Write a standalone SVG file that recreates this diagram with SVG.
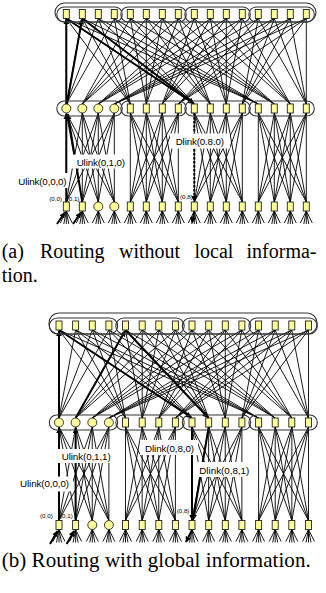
<svg xmlns="http://www.w3.org/2000/svg" width="326" height="593" viewBox="0 0 326 593">
<style>
.ln{fill:none;stroke:#000;stroke-width:0.9}
.th{fill:none;stroke:#000;stroke-width:2}
.ds{fill:none;stroke:#000;stroke-width:2;stroke-dasharray:2.5 1.5}
.pl{fill:none;stroke:#333;stroke-width:1.1}
.nd{fill:#ffff99;stroke:#222;stroke-width:0.9}
.lb{font-family:"Liberation Sans",Arial,sans-serif;font-size:9.8px;fill:#000}
.sm{font-family:"Liberation Sans",Arial,sans-serif;font-size:6.2px;fill:#000}
.cap{font-family:"Liberation Serif","Times New Roman",serif;font-size:20px;fill:#000}
.bx{fill:#fff}
</style>
<defs>
<marker id="ah" viewBox="0 0 10 10" refX="9" refY="5" markerWidth="6" markerHeight="6" markerUnits="userSpaceOnUse" orient="auto"><path d="M0 0L10 5L0 10z" fill="#000"/></marker>
<path id="stub" class="ln" d="M0 0l-6 12M0 0l-2.5 13M0 0l0 13M0 0l2.5 13M0 0l6 12"/>
<path id="kA" d="M0 0l0 89M0 0l16 89M0 0l32 89M0 0l48 89M16 0l-16 89M16 0l0 89M16 0l16 89M16 0l32 89M32 0l-32 89M32 0l-16 89M32 0l0 89M32 0l16 89M48 0l-48 89M48 0l-32 89M48 0l-16 89M48 0l0 89"/>
<path id="kB" d="M0 0l0 93.5M0 0l16.63 93.5M0 0l33.26 93.5M0 0l49.89 93.5M16.63 0l-16.63 93.5M16.63 0l0 93.5M16.63 0l16.63 93.5M16.63 0l33.26 93.5M33.26 0l-33.26 93.5M33.26 0l-16.63 93.5M33.26 0l0 93.5M33.26 0l16.63 93.5M49.89 0l-49.89 93.5M49.89 0l-33.26 93.5M49.89 0l-16.63 93.5M49.89 0l0 93.5"/>
</defs>

<!-- ================= Panel (a) ================= -->
<g id="a-connectors">
<path class="ln" d="M66.3 18.5L66.3 104M66.3 18.5L130.3 104M66.3 18.5L194.3 104M66.3 18.5L258.3 104
M82.3 18.5L66.3 104M82.3 18.5L130.3 104M82.3 18.5L194.3 104M82.3 18.5L258.3 104
M98.3 18.5L66.3 104M98.3 18.5L130.3 104M98.3 18.5L194.3 104M98.3 18.5L258.3 104
M114.3 18.5L66.3 104M114.3 18.5L130.3 104M114.3 18.5L194.3 104M114.3 18.5L258.3 104
M130.3 18.5L82.3 104M130.3 18.5L146.3 104M130.3 18.5L210.3 104M130.3 18.5L274.3 104
M146.3 18.5L82.3 104M146.3 18.5L146.3 104M146.3 18.5L210.3 104M146.3 18.5L274.3 104
M162.3 18.5L82.3 104M162.3 18.5L146.3 104M162.3 18.5L210.3 104M162.3 18.5L274.3 104
M178.3 18.5L82.3 104M178.3 18.5L146.3 104M178.3 18.5L210.3 104M178.3 18.5L274.3 104
M194.3 18.5L98.3 104M194.3 18.5L162.3 104M194.3 18.5L226.3 104M194.3 18.5L290.3 104
M210.3 18.5L98.3 104M210.3 18.5L162.3 104M210.3 18.5L226.3 104M210.3 18.5L290.3 104
M226.3 18.5L98.3 104M226.3 18.5L162.3 104M226.3 18.5L226.3 104M226.3 18.5L290.3 104
M242.3 18.5L98.3 104M242.3 18.5L162.3 104M242.3 18.5L226.3 104M242.3 18.5L290.3 104
M258.3 18.5L114.3 104M258.3 18.5L178.3 104M258.3 18.5L242.3 104M258.3 18.5L306.3 104
M274.3 18.5L114.3 104M274.3 18.5L178.3 104M274.3 18.5L242.3 104M274.3 18.5L306.3 104
M290.3 18.5L114.3 104M290.3 18.5L178.3 104M290.3 18.5L242.3 104M290.3 18.5L306.3 104
M306.3 18.5L114.3 104M306.3 18.5L178.3 104M306.3 18.5L242.3 104M306.3 18.5L306.3 104"/>
<use href="#kA" class="ln" x="66.3" y="113"/>
<use href="#kA" class="ln" x="130.3" y="113"/>
<use href="#kA" class="ln" x="194.3" y="113"/>
<use href="#kA" class="ln" x="258.3" y="113"/>
<use href="#stub" x="66.3" y="211"/><use href="#stub" x="82.3" y="211"/><use href="#stub" x="98.3" y="211"/><use href="#stub" x="114.3" y="211"/>
<use href="#stub" x="130.3" y="211"/><use href="#stub" x="146.3" y="211"/><use href="#stub" x="162.3" y="211"/><use href="#stub" x="178.3" y="211"/>
<use href="#stub" x="194.3" y="211"/><use href="#stub" x="210.3" y="211"/><use href="#stub" x="226.3" y="211"/><use href="#stub" x="242.3" y="211"/>
<use href="#stub" x="258.3" y="211"/><use href="#stub" x="274.3" y="211"/><use href="#stub" x="290.3" y="211"/><use href="#stub" x="306.3" y="211"/>
<path class="th" d="M66.3 202L66.3 114" marker-end="url(#ah)"/>
<path class="th" d="M82.3 202L67.8 114" marker-end="url(#ah)"/>
<path class="th" d="M66.3 104L66.3 19" marker-end="url(#ah)"/>
<path class="th" d="M67 104L82 19" marker-end="url(#ah)"/>
<path class="th" d="M66.3 18.5L193.6 103.5" marker-end="url(#ah)"/>
<path class="th" d="M82.3 18.5L193.8 103.5" marker-end="url(#ah)"/>
<path class="ds" d="M194.3 113L194.3 201.5" marker-end="url(#ah)"/>
<path class="ds" d="M194.3 211.5L192 223" marker-end="url(#ah)"/>
<path class="th" d="M57 224L64.8 212.5" marker-end="url(#ah)"/>
<path class="th" d="M73 224L80.8 212.5" marker-end="url(#ah)"/>
</g>
<g id="a-labels">
<rect class="bx" x="71.5" y="154.5" width="57" height="14"/>
<text class="lb" x="76.7" y="166" textLength="48.3">Ulink(0,1,0)</text>
<rect class="bx" x="16" y="173" width="52" height="15"/>
<text class="lb" x="18.3" y="185" textLength="48.3">Ulink(0,0,0)</text>
<rect class="bx" x="170" y="133.5" width="60" height="15"/>
<text class="lb" x="175.7" y="145" textLength="48.3">Dlink(0.8.0)</text>
<text class="sm" x="49.3" y="201">(0,0)</text>
<text class="sm" x="66.7" y="201">(0,1)</text>
<text class="sm" x="180" y="199">(0,8)</text>
</g>
<g id="a-groups">
<rect class="pl" x="55" y="3" width="261" height="19" rx="9.5"/>
<rect class="pl" x="56.8" y="7" width="65.5" height="15" rx="7.5"/>
<rect class="pl" x="120.8" y="7" width="65.5" height="15" rx="7.5"/>
<rect class="pl" x="184.8" y="7" width="65.5" height="15" rx="7.5"/>
<rect class="pl" x="248.8" y="7" width="65.5" height="15" rx="7.5"/>
<rect class="pl" x="56.8" y="101" width="65.5" height="15" rx="7.5"/>
<rect class="pl" x="120.8" y="101" width="65.5" height="15" rx="7.5"/>
<rect class="pl" x="184.8" y="101" width="65.5" height="15" rx="7.5"/>
<rect class="pl" x="248.8" y="101" width="65.5" height="15" rx="7.5"/>
</g>
<g id="a-top">
<g id="a-t0"><rect class="nd" x="63.3" y="9.5" width="6" height="9"/></g>
<g id="a-t1"><rect class="nd" x="79.3" y="9.5" width="6" height="9"/></g>
<g id="a-t2"><rect class="nd" x="95.3" y="9.5" width="6" height="9"/></g>
<g id="a-t3"><rect class="nd" x="111.3" y="9.5" width="6" height="9"/></g>
<g id="a-t4"><rect class="nd" x="127.3" y="9.5" width="6" height="9"/></g>
<g id="a-t5"><rect class="nd" x="143.3" y="9.5" width="6" height="9"/></g>
<g id="a-t6"><rect class="nd" x="159.3" y="9.5" width="6" height="9"/></g>
<g id="a-t7"><rect class="nd" x="175.3" y="9.5" width="6" height="9"/></g>
<g id="a-t8"><rect class="nd" x="191.3" y="9.5" width="6" height="9"/></g>
<g id="a-t9"><rect class="nd" x="207.3" y="9.5" width="6" height="9"/></g>
<g id="a-t10"><rect class="nd" x="223.3" y="9.5" width="6" height="9"/></g>
<g id="a-t11"><rect class="nd" x="239.3" y="9.5" width="6" height="9"/></g>
<g id="a-t12"><rect class="nd" x="255.3" y="9.5" width="6" height="9"/></g>
<g id="a-t13"><rect class="nd" x="271.3" y="9.5" width="6" height="9"/></g>
<g id="a-t14"><rect class="nd" x="287.3" y="9.5" width="6" height="9"/></g>
<g id="a-t15"><rect class="nd" x="303.3" y="9.5" width="6" height="9"/></g>
</g>
<g id="a-mid">
<g id="a-m0"><circle class="nd" cx="66.3" cy="108.5" r="4.5"/></g>
<g id="a-m1"><circle class="nd" cx="82.3" cy="108.5" r="4.5"/></g>
<g id="a-m2"><circle class="nd" cx="98.3" cy="108.5" r="4.5"/></g>
<g id="a-m3"><circle class="nd" cx="114.3" cy="108.5" r="4.5"/></g>
<g id="a-m4"><rect class="nd" x="127.3" y="104" width="6" height="9"/></g>
<g id="a-m5"><rect class="nd" x="143.3" y="104" width="6" height="9"/></g>
<g id="a-m6"><rect class="nd" x="159.3" y="104" width="6" height="9"/></g>
<g id="a-m7"><rect class="nd" x="175.3" y="104" width="6" height="9"/></g>
<g id="a-m8"><rect class="nd" x="191.3" y="104" width="6" height="9"/></g>
<g id="a-m9"><rect class="nd" x="207.3" y="104" width="6" height="9"/></g>
<g id="a-m10"><rect class="nd" x="223.3" y="104" width="6" height="9"/></g>
<g id="a-m11"><rect class="nd" x="239.3" y="104" width="6" height="9"/></g>
<g id="a-m12"><rect class="nd" x="255.3" y="104" width="6" height="9"/></g>
<g id="a-m13"><rect class="nd" x="271.3" y="104" width="6" height="9"/></g>
<g id="a-m14"><rect class="nd" x="287.3" y="104" width="6" height="9"/></g>
<g id="a-m15"><rect class="nd" x="303.3" y="104" width="6" height="9"/></g>
</g>
<g id="a-bot">
<g id="a-b0"><rect class="nd" x="63.3" y="202" width="6" height="9"/></g>
<g id="a-b1"><rect class="nd" x="79.3" y="202" width="6" height="9"/></g>
<g id="a-b2"><circle class="nd" cx="98.3" cy="206.5" r="4.5"/></g>
<g id="a-b3"><circle class="nd" cx="114.3" cy="206.5" r="4.5"/></g>
<g id="a-b4"><rect class="nd" x="127.3" y="202" width="6" height="9"/></g>
<g id="a-b5"><rect class="nd" x="143.3" y="202" width="6" height="9"/></g>
<g id="a-b6"><rect class="nd" x="159.3" y="202" width="6" height="9"/></g>
<g id="a-b7"><rect class="nd" x="175.3" y="202" width="6" height="9"/></g>
<g id="a-b8"><rect class="nd" x="191.3" y="202" width="6" height="9"/></g>
<g id="a-b9"><rect class="nd" x="207.3" y="202" width="6" height="9"/></g>
<g id="a-b10"><rect class="nd" x="223.3" y="202" width="6" height="9"/></g>
<g id="a-b11"><rect class="nd" x="239.3" y="202" width="6" height="9"/></g>
<g id="a-b12"><rect class="nd" x="255.3" y="202" width="6" height="9"/></g>
<g id="a-b13"><rect class="nd" x="271.3" y="202" width="6" height="9"/></g>
<g id="a-b14"><rect class="nd" x="287.3" y="202" width="6" height="9"/></g>
<g id="a-b15"><rect class="nd" x="303.3" y="202" width="6" height="9"/></g>
</g>
<g id="a-caption">
<text class="cap" y="258"><tspan x="1.7">(a)</tspan><tspan x="40">Routing</tspan><tspan x="119">without</tspan><tspan x="194.5">local</tspan><tspan x="246.5">informa-</tspan></text>
<text class="cap" x="1.7" y="282">tion.</text>
</g>

<!-- ================= Panel (b) ================= -->
<g id="b-connectors">
<path class="ln" d="M59 330L59 418M59 330L125.5 418M59 330L192 418M59 330L258.6 418
M75.6 330L59 418M75.6 330L125.5 418M75.6 330L192 418M75.6 330L258.6 418
M92.3 330L59 418M92.3 330L125.5 418M92.3 330L192 418M92.3 330L258.6 418
M108.9 330L59 418M108.9 330L125.5 418M108.9 330L192 418M108.9 330L258.6 418
M125.5 330L75.6 418M125.5 330L142.2 418M125.5 330L208.7 418M125.5 330L275.2 418
M142.2 330L75.6 418M142.2 330L142.2 418M142.2 330L208.7 418M142.2 330L275.2 418
M158.8 330L75.6 418M158.8 330L142.2 418M158.8 330L208.7 418M158.8 330L275.2 418
M175.4 330L75.6 418M175.4 330L142.2 418M175.4 330L208.7 418M175.4 330L275.2 418
M192 330L92.3 418M192 330L158.8 418M192 330L225.3 418M192 330L291.8 418
M208.7 330L92.3 418M208.7 330L158.8 418M208.7 330L225.3 418M208.7 330L291.8 418
M225.3 330L92.3 418M225.3 330L158.8 418M225.3 330L225.3 418M225.3 330L291.8 418
M241.9 330L92.3 418M241.9 330L158.8 418M241.9 330L225.3 418M241.9 330L291.8 418
M258.6 330L108.9 418M258.6 330L175.4 418M258.6 330L241.9 418M258.6 330L308.5 418
M275.2 330L108.9 418M275.2 330L175.4 418M275.2 330L241.9 418M275.2 330L308.5 418
M291.8 330L108.9 418M291.8 330L175.4 418M291.8 330L241.9 418M291.8 330L308.5 418
M308.5 330L108.9 418M308.5 330L175.4 418M308.5 330L241.9 418M308.5 330L308.5 418"/>
<use href="#kB" class="ln" x="59" y="427"/>
<use href="#kB" class="ln" x="125.5" y="427"/>
<use href="#kB" class="ln" x="192" y="427"/>
<use href="#kB" class="ln" x="258.6" y="427"/>
<use href="#stub" x="59" y="529.5"/><use href="#stub" x="75.6" y="529.5"/><use href="#stub" x="92.3" y="529.5"/><use href="#stub" x="108.9" y="529.5"/>
<use href="#stub" x="125.5" y="529.5"/><use href="#stub" x="142.2" y="529.5"/><use href="#stub" x="158.8" y="529.5"/><use href="#stub" x="175.4" y="529.5"/>
<use href="#stub" x="192" y="529.5"/><use href="#stub" x="208.7" y="529.5"/><use href="#stub" x="225.3" y="529.5"/><use href="#stub" x="241.9" y="529.5"/>
<use href="#stub" x="258.6" y="529.5"/><use href="#stub" x="275.2" y="529.5"/><use href="#stub" x="291.8" y="529.5"/><use href="#stub" x="308.5" y="529.5"/>
<path class="th" d="M59 520.5L59 428" marker-end="url(#ah)"/>
<path class="th" d="M75.6 520.5L75.6 428" marker-end="url(#ah)"/>
<path class="th" d="M59 418L59 331" marker-end="url(#ah)"/>
<path class="th" d="M75.6 418L125 331" marker-end="url(#ah)"/>
<path class="th" d="M59 330L191.3 417.5" marker-end="url(#ah)"/>
<path class="th" d="M125.5 330L208 417.5" marker-end="url(#ah)"/>
<path class="th" d="M192 427L192 520" marker-end="url(#ah)"/>
<path class="th" d="M208.7 427L193 520" marker-end="url(#ah)"/>
<path class="th" d="M192 530L186 542" marker-end="url(#ah)"/>
<path class="th" d="M50 544L57.5 531" marker-end="url(#ah)"/>
<path class="th" d="M66.6 544L74.1 531" marker-end="url(#ah)"/>
</g>
<g id="b-labels">
<rect class="bx" x="58" y="449" width="55" height="14"/>
<text class="lb" x="61.7" y="460" textLength="49">Ulink(0,1,1)</text>
<rect class="bx" x="17" y="476.5" width="56" height="15"/>
<text class="lb" x="20" y="487.3" textLength="49">Ulink(0,0,0)</text>
<rect class="bx" x="140" y="440" width="58" height="15"/>
<text class="lb" x="145" y="451.7" textLength="49">Dlink(0,8,0)</text>
<rect class="bx" x="195" y="462" width="58" height="15"/>
<text class="lb" x="199.3" y="474" textLength="50">Dlink(0,8,1)</text>
<text class="sm" x="40" y="518.3">(0,0)</text>
<text class="sm" x="60" y="518.3">(0,1)</text>
<text class="sm" x="176.7" y="513.3">(0,8)</text>
</g>
<g id="b-groups">
<rect class="pl" x="49" y="313" width="268" height="21" rx="10"/>
<rect class="pl" x="49.3" y="318" width="68.4" height="16" rx="8"/>
<rect class="pl" x="115.8" y="318" width="68.4" height="16" rx="8"/>
<rect class="pl" x="182.3" y="318" width="68.4" height="16" rx="8"/>
<rect class="pl" x="248.9" y="318" width="68.4" height="16" rx="8"/>
<rect class="pl" x="49.3" y="415" width="68.4" height="15" rx="7.5"/>
<rect class="pl" x="115.8" y="415" width="68.4" height="15" rx="7.5"/>
<rect class="pl" x="182.3" y="415" width="68.4" height="15" rx="7.5"/>
<rect class="pl" x="248.9" y="415" width="68.4" height="15" rx="7.5"/>
</g>
<g id="b-top">
<g id="b-t0"><rect class="nd" x="56" y="321" width="6" height="9"/></g>
<g id="b-t1"><rect class="nd" x="72.6" y="321" width="6" height="9"/></g>
<g id="b-t2"><rect class="nd" x="89.3" y="321" width="6" height="9"/></g>
<g id="b-t3"><rect class="nd" x="105.9" y="321" width="6" height="9"/></g>
<g id="b-t4"><rect class="nd" x="122.5" y="321" width="6" height="9"/></g>
<g id="b-t5"><rect class="nd" x="139.2" y="321" width="6" height="9"/></g>
<g id="b-t6"><rect class="nd" x="155.8" y="321" width="6" height="9"/></g>
<g id="b-t7"><rect class="nd" x="172.4" y="321" width="6" height="9"/></g>
<g id="b-t8"><rect class="nd" x="189" y="321" width="6" height="9"/></g>
<g id="b-t9"><rect class="nd" x="205.7" y="321" width="6" height="9"/></g>
<g id="b-t10"><rect class="nd" x="222.3" y="321" width="6" height="9"/></g>
<g id="b-t11"><rect class="nd" x="238.9" y="321" width="6" height="9"/></g>
<g id="b-t12"><rect class="nd" x="255.6" y="321" width="6" height="9"/></g>
<g id="b-t13"><rect class="nd" x="272.2" y="321" width="6" height="9"/></g>
<g id="b-t14"><rect class="nd" x="288.8" y="321" width="6" height="9"/></g>
<g id="b-t15"><rect class="nd" x="305.5" y="321" width="6" height="9"/></g>
</g>
<g id="b-mid">
<g id="b-m0"><circle class="nd" cx="59" cy="422.5" r="4.5"/></g>
<g id="b-m1"><circle class="nd" cx="75.6" cy="422.5" r="4.5"/></g>
<g id="b-m2"><circle class="nd" cx="92.3" cy="422.5" r="4.5"/></g>
<g id="b-m3"><circle class="nd" cx="108.9" cy="422.5" r="4.5"/></g>
<g id="b-m4"><rect class="nd" x="122.5" y="418" width="6" height="9"/></g>
<g id="b-m5"><rect class="nd" x="139.2" y="418" width="6" height="9"/></g>
<g id="b-m6"><rect class="nd" x="155.8" y="418" width="6" height="9"/></g>
<g id="b-m7"><rect class="nd" x="172.4" y="418" width="6" height="9"/></g>
<g id="b-m8"><rect class="nd" x="189" y="418" width="6" height="9"/></g>
<g id="b-m9"><rect class="nd" x="205.7" y="418" width="6" height="9"/></g>
<g id="b-m10"><rect class="nd" x="222.3" y="418" width="6" height="9"/></g>
<g id="b-m11"><rect class="nd" x="238.9" y="418" width="6" height="9"/></g>
<g id="b-m12"><rect class="nd" x="255.6" y="418" width="6" height="9"/></g>
<g id="b-m13"><rect class="nd" x="272.2" y="418" width="6" height="9"/></g>
<g id="b-m14"><rect class="nd" x="288.8" y="418" width="6" height="9"/></g>
<g id="b-m15"><rect class="nd" x="305.5" y="418" width="6" height="9"/></g>
</g>
<g id="b-bot">
<g id="b-b0"><rect class="nd" x="56" y="520.5" width="6" height="9"/></g>
<g id="b-b1"><rect class="nd" x="72.6" y="520.5" width="6" height="9"/></g>
<g id="b-b2"><circle class="nd" cx="92.3" cy="525" r="4.5"/></g>
<g id="b-b3"><circle class="nd" cx="108.9" cy="525" r="4.5"/></g>
<g id="b-b4"><rect class="nd" x="122.5" y="520.5" width="6" height="9"/></g>
<g id="b-b5"><rect class="nd" x="139.2" y="520.5" width="6" height="9"/></g>
<g id="b-b6"><rect class="nd" x="155.8" y="520.5" width="6" height="9"/></g>
<g id="b-b7"><rect class="nd" x="172.4" y="520.5" width="6" height="9"/></g>
<g id="b-b8"><rect class="nd" x="189" y="520.5" width="6" height="9"/></g>
<g id="b-b9"><rect class="nd" x="205.7" y="520.5" width="6" height="9"/></g>
<g id="b-b10"><rect class="nd" x="222.3" y="520.5" width="6" height="9"/></g>
<g id="b-b11"><rect class="nd" x="238.9" y="520.5" width="6" height="9"/></g>
<g id="b-b12"><rect class="nd" x="255.6" y="520.5" width="6" height="9"/></g>
<g id="b-b13"><rect class="nd" x="272.2" y="520.5" width="6" height="9"/></g>
<g id="b-b14"><rect class="nd" x="288.8" y="520.5" width="6" height="9"/></g>
<g id="b-b15"><rect class="nd" x="305.5" y="520.5" width="6" height="9"/></g>
</g>
<g id="b-caption">
<text class="cap" x="1.7" y="567" style="font-size:21px" textLength="309" lengthAdjust="spacing">(b) Routing with global information.</text>
</g>
</svg>
